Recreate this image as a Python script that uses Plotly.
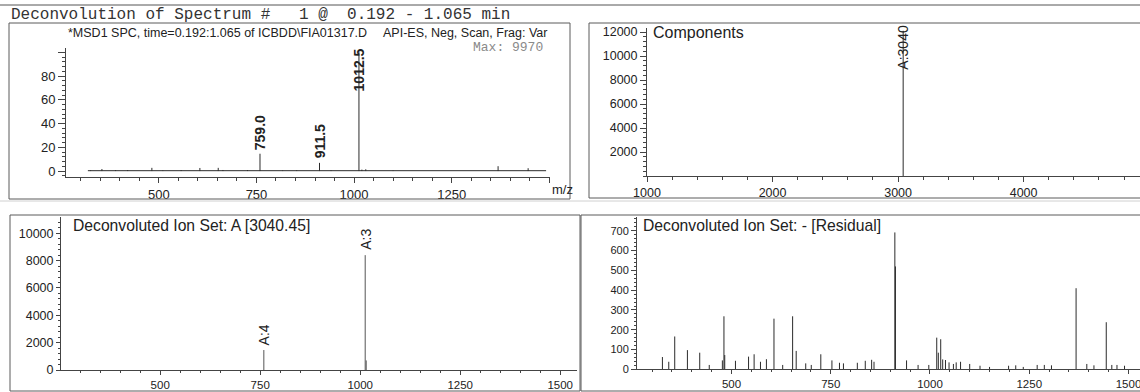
import plotly.graph_objects as go

W, H = 1140, 392

# ---------------- data ----------------
# MSD1 scan, relative abundance in % of base peak (Max: 9970)
scan_mz = [325, 354, 389, 420, 482, 510, 557, 605, 652, 664, 727,
           759.0, 817, 853, 911.5, 941, 1012.5, 1020, 1030, 1100, 1369, 1446]
scan_pct = [0.6, 1.7, 0.8, 0.8, 2.7, 0.5, 0.8, 2.6, 2.7, 0.9, 0.8,
            14.6, 0.5, 0.6, 6.9, 0.5, 100.0, 1.2, 1.5, 0.4, 4.1, 2.4]
scan_base_mz = [318, 1492]
scan_base_pct = [0.3, 0.3]
scan_labels = ["759.0", "911.5", "1012.5"]
scan_label_mz = [759.0, 911.5, 1012.5]

# deconvoluted components (mass, abundance)
comp_mass = [3040.45]
comp_abund = [12100]
comp_labels = ["A:3040"]

# ion set A [3040.45]
ion_mz = [759.1, 1012.5, 1015.0]
ion_abund = [1460, 8400, 700]
ion_labels = ["A:4", "A:3"]
ion_label_mz = [759.1, 1012.5]
ion_label_abund = [1460, 8400]

# residual ions
res_mz = [326, 342, 357, 389, 420, 444, 477, 481, 483, 510, 543, 557, 573,
          588, 607, 629, 654, 663, 687, 701, 725, 753, 772, 782, 817, 837,
          853, 859, 911.5, 913, 941, 970, 997, 1017, 1021, 1027, 1032, 1039,
          1048, 1059, 1066, 1077, 1100, 1126, 1150, 1198, 1216, 1235, 1270,
          1288, 1306, 1368, 1395, 1413, 1444, 1458, 1471, 1490]
res_abund = [62, 38, 166, 97, 84, 22, 45, 268, 72, 43, 64, 76, 38,
             51, 256, 22, 268, 93, 30, 22, 76, 45, 33, 30, 33, 43,
             48, 38, 692, 520, 45, 22, 22, 160, 84, 152, 50, 47,
             35, 27, 35, 38, 27, 18, 12, 18, 20, 12, 22,
             22, 20, 410, 27, 20, 238, 22, 22, 18]

# ---------------- helpers ----------------
def sticks(xs, ys):
    sx, sy = [], []
    for x, y in zip(xs, ys):
        sx += [x, x, None]
        sy += [0, y, None]
    return sx, sy


def px(x):
    return x / W


def py(y):
    return 1 - y / H


FONT = "Liberation Sans, Arial, sans-serif"
MONO = "Liberation Mono, Courier New, monospace"
INK = "#222222"
LINE = "#2b2b2b"
AX = "#444444"

fig = go.Figure()

panels = [
    # (xaxis, yaxis, x-domain px, y-domain px (top,bottom))
    ("x", "y", (66, 550), (48, 177)),
    ("x2", "y2", (647, 1140), (28, 176)),
    ("x3", "y3", (61, 577), (217, 370)),
    ("x4", "y4", (637, 1140), (217, 369.3)),
]

# spectrum traces
sx, sy = sticks(scan_mz, scan_pct)
fig.add_trace(go.Scatter(x=scan_base_mz, y=scan_base_pct, mode="lines",
                         line=dict(color=LINE, width=1), xaxis="x", yaxis="y",
                         hoverinfo="skip"))
fig.add_trace(go.Scatter(x=sx, y=sy, mode="lines", line=dict(color=LINE, width=1),
                         xaxis="x", yaxis="y", hoverinfo="skip"))

sx, sy = sticks(comp_mass, comp_abund)
fig.add_trace(go.Scatter(x=sx, y=sy, mode="lines", line=dict(color=LINE, width=1),
                         xaxis="x2", yaxis="y2", hoverinfo="skip"))

sx, sy = sticks(ion_mz, ion_abund)
fig.add_trace(go.Scatter(x=sx, y=sy, mode="lines", line=dict(color="#555555", width=1),
                         xaxis="x3", yaxis="y3", hoverinfo="skip"))

sx, sy = sticks(res_mz, res_abund)
fig.add_trace(go.Scatter(x=sx, y=sy, mode="lines", line=dict(color=LINE, width=1),
                         xaxis="x4", yaxis="y4", hoverinfo="skip"))


def minor(dt, ln=3):
    return dict(tickmode="linear", tick0=0, dtick=dt, ticklen=ln,
                ticks="outside", tickcolor=AX, tickwidth=1)


def axis_common(size):
    return dict(showline=True, linecolor=AX, linewidth=1, ticks="outside",
                tickcolor=AX, tickwidth=1, showgrid=False, zeroline=False,
                fixedrange=True, automargin=False, tickformat="d",
                ticklabeloverflow="allow",
                tickfont=dict(family=FONT, size=size, color=INK))


layout = dict(template="none", width=W, height=H, margin=dict(l=0, r=0, t=0, b=0),
              paper_bgcolor="white", plot_bgcolor="rgba(0,0,0,0)", showlegend=False,
              font=dict(family=FONT, color=INK))

# axis ranges / ticks per panel
xr = [[262, 1502], [1000, 4927], [252, 1542], [262, 1529]]
yr = [[-5, 103.6], [0, 12333], [0, 11190], [0, 770]]
xsize = [13, 12.5, 11.5, 11.5]
ysize = [13, 12.5, 12.5, 11]
xlen = [5, 5, 4, 4]
ylen = [7, 6, 4, 5]

for i, (xa, ya, (x0, x1), (t, b)) in enumerate(panels):
    xk = "xaxis" if i == 0 else f"xaxis{i + 1}"
    yk = "yaxis" if i == 0 else f"yaxis{i + 1}"
    xd = dict(axis_common(xsize[i]), domain=[px(x0), px(x1)], range=xr[i],
              anchor=ya, ticklen=xlen[i])
    yd = dict(axis_common(ysize[i]), domain=[py(b), py(t)], range=yr[i],
              anchor=xa, ticklen=ylen[i])
    if i == 0:
        xd.update(tickvals=[500, 750, 1000, 1250, 1500],
                  ticktext=["500", "750", "1000", "1250", ""], minor=minor(50))
        yd.update(tickvals=[0, 20, 40, 60, 80, 100],
                  ticktext=["0", "20", "40", "60", "80", ""], minor=minor(4))
    elif i == 1:
        xd.update(tickvals=[1000, 2000, 3000, 4000], minor=minor(200))
        yd.update(tickvals=[2000, 4000, 6000, 8000, 10000, 12000], minor=minor(400))
    elif i == 2:
        xd.update(tickvals=[500, 750, 1000, 1250, 1500], minor=minor(50, 2))
        yd.update(tickvals=[0, 2000, 4000, 6000, 8000, 10000], minor=minor(400, 2))
    else:
        xd.update(tickvals=[500, 750, 1000, 1250, 1500], minor=minor(50, 2))
        yd.update(tickvals=[0, 100, 200, 300, 400, 500, 600, 700], minor=minor(20, 2))
    layout[xk] = xd
    layout[yk] = yd

fig.update_layout(**layout)

# frames around each panel and page rules
boxes = [(9, 23, 570, 199), (589, 23, 1146, 198), (10, 215, 580, 391), (581, 215, 1146, 391)]
shapes = []
for (x0, y0, x1, y1) in boxes:
    shapes.append(dict(type="rect", xref="paper", yref="paper",
                       x0=px(x0), x1=px(x1), y0=py(y1), y1=py(y0),
                       line=dict(color="#5a5a5a", width=1), fillcolor="rgba(0,0,0,0)"))
shapes.append(dict(type="line", xref="paper", yref="paper", x0=0, x1=1, y0=py(5), y1=py(5),
                   line=dict(color="#555555", width=1)))
shapes.append(dict(type="line", xref="paper", yref="paper", x0=0, x1=1, y0=py(201), y1=py(201),
                   line=dict(color="#d0d0d0", width=1)))
fig.update_layout(shapes=shapes)

ann = []


def text(x, y, s, size, family=FONT, color=INK, anchor="left"):
    ann.append(dict(xref="paper", yref="paper", x=px(x), y=py(y), text=s,
                    showarrow=False, xanchor=anchor, yanchor="middle",
                    font=dict(family=family, size=size, color=color)))


NB = "\u00a0"
text(9, 15, "Deconvolution of Spectrum #" + NB * 3 + "1 @" + NB * 2 + "0.192 - 1.065 min",
     16, family=MONO, color="#333333")
text(66, 33, "*MSD1 SPC, time=0.192:1.065 of ICBDD\\FIA01317.D", 12.5)
text(381, 33, "API-ES, Neg, Scan, Frag: Var", 12.5)
text(471, 47, "Max:" + NB + "9970", 13, family=MONO, color="#8a8a8a")
text(550, 190, "m/z", 13)
text(651, 33, "Components", 16)
text(71, 225, "Deconvoluted Ion Set: A [3040.45]", 15.7)
text(641, 225, "Deconvoluted Ion Set: - [Residual]", 15.7)

# peak labels, top-left spectrum
for lab, m in zip(scan_labels, scan_label_mz):
    pct = scan_pct[scan_mz.index(m)]
    if pct > 90:
        ann.append(dict(xref="x", yref="y domain", x=m, y=1, yanchor="top", xanchor="center",
                        text=lab, textangle=-90, showarrow=False, yshift=2,
                        font=dict(family=FONT, size=14, color=INK, weight="bold")))
    else:
        ann.append(dict(xref="x", yref="y", x=m, y=pct, yanchor="bottom", xanchor="center",
                        text=lab, textangle=-90, showarrow=False, yshift=2,
                        font=dict(family=FONT, size=14, color=INK, weight="bold")))

# component label
for lab, m in zip(comp_labels, comp_mass):
    ann.append(dict(xref="x2", yref="y2 domain", x=m, y=1, yanchor="top", xanchor="center",
                    text=lab, textangle=-90, showarrow=False, yshift=5,
                    font=dict(family=FONT, size=14, color=INK)))

# ion set labels
for lab, m, v in zip(ion_labels, ion_label_mz, ion_label_abund):
    ann.append(dict(xref="x3", yref="y3", x=m, y=v, yanchor="bottom", xanchor="center",
                    text=lab, textangle=-90, showarrow=False, yshift=3,
                    font=dict(family=FONT, size=14, color=INK)))

fig.update_layout(annotations=ann)
fig.write_html("out.html")
